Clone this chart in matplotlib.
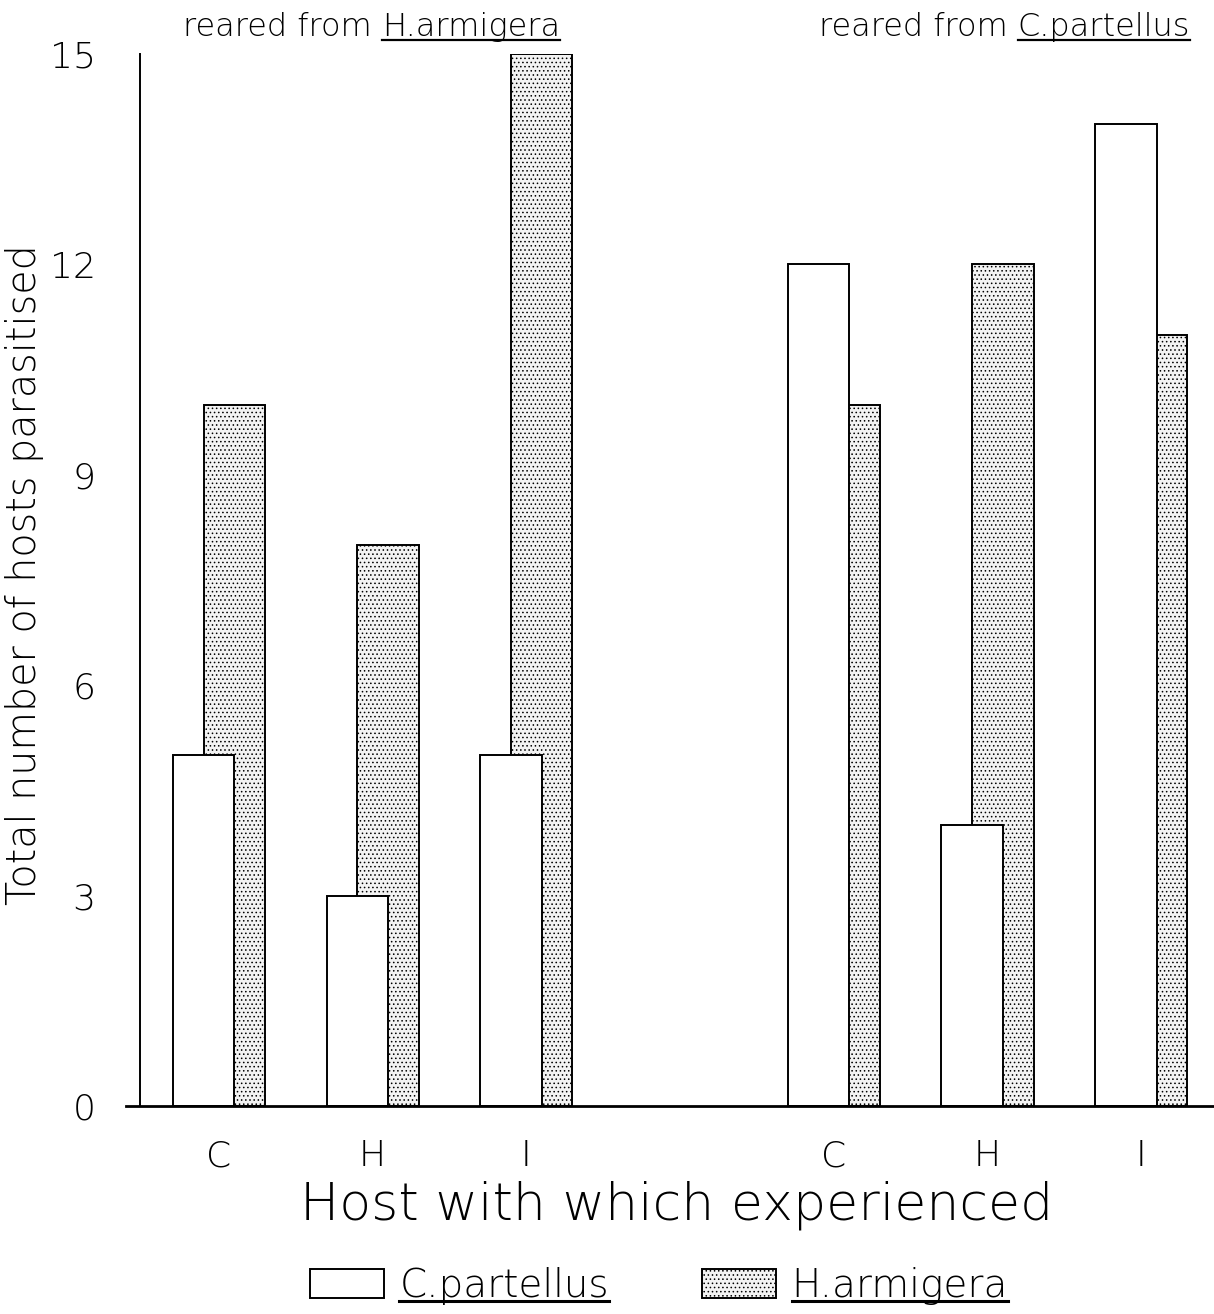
import matplotlib
matplotlib.use("Agg")
import matplotlib.pyplot as plt
import numpy as np
from matplotlib.lines import Line2D

plt.rcParams["font.family"] = ["DejaVu Sans"]
plt.rcParams["font.weight"] = "light"
plt.rcParams["axes.labelweight"] = "light"
plt.rcParams["hatch.color"] = "#b4b4b4"
plt.rcParams["hatch.linewidth"] = 0.6

# host with which the wasps were experienced, two rearing-host groups
categories = ["C", "H", "I", "C", "H", "I"]
positions = [0, 1, 2, 4, 5, 6]
c_partellus = [5, 3, 5, 12, 4, 14]
h_armigera = [10, 8, 15, 10, 12, 11]
group_titles = [("reared from ", "H.armigera"), ("reared from ", "C.partellus")]
series_names = ["C.partellus", "H.armigera"]
yticks = [0, 3, 6, 9, 12, 15]

fig = plt.figure(figsize=(12.14, 13.14), dpi=100)
ax = fig.add_axes([0.1153, 0.1583, 0.8847, 0.8006])

x = np.array(positions, dtype=float)
width = 0.40
offset = 0.10

ax.bar(x + offset, h_armigera, width=width, color="#f3f3f3", hatch="....",
       edgecolor="black", linewidth=1.4, zorder=2, label=series_names[1])
ax.bar(x - offset, c_partellus, width=width, color="white",
       edgecolor="black", linewidth=1.4, zorder=3, label=series_names[0])

ax.set_xlim(-0.514, 6.474)
ax.set_ylim(0, 15)
ax.set_xticks(positions)
ax.set_xticklabels(categories)
ax.set_yticks(yticks)
ax.set_yticklabels([str(v) for v in yticks])
ax.set_yticks([15], minor=True)
ax.tick_params(axis="y", which="major", length=0, pad=32, labelsize=26)
ax.tick_params(axis="y", which="minor", length=11, width=1.4, direction="out")
ax.tick_params(axis="x", length=0, pad=24, labelsize=26)

for side in ["top", "right", "bottom"]:
    ax.spines[side].set_visible(False)
ax.spines["left"].set_linewidth(1.4)
ax.axhline(0, xmin=-0.013, xmax=1, color="black", lw=2.0, clip_on=False, zorder=4)

ax.set_xlabel("Host with which experienced", fontsize=37.5, labelpad=5,
              fontweight="light")
ax.set_ylabel("Total number of hosts parasitised", fontsize=28.5, fontweight="light")
ax.yaxis.set_label_coords(-0.089, 0.505)

# group headings with underlined species names
title_right = [560 / 1214, 1190 / 1214]
title_base = 1 - 36 / 1314
heading_texts = []
for (prefix, species), xr in zip(group_titles, title_right):
    t_sp = fig.text(xr, title_base, species, ha="right", va="baseline", fontsize=23)
    heading_texts.append((prefix, t_sp))

handles, labels = ax.get_legend_handles_labels()
order = [1, 0]
leg = fig.legend([handles[i] for i in order], [labels[i] for i in order],
                 loc="center", bbox_to_anchor=(659 / 1214, 1 - 1286 / 1314),
                 ncol=2, frameon=False, fontsize=28, handlelength=1.9,
                 handleheight=0.8, handletextpad=0.4, columnspacing=2.4)

fig.canvas.draw()
renderer = fig.canvas.get_renderer()
inv = fig.transFigure.inverted()

for prefix, t_sp in heading_texts:
    bb = t_sp.get_window_extent(renderer)
    x0 = inv.transform((bb.x0, bb.y0))[0]
    fig.text(x0, title_base, prefix, ha="right", va="baseline", fontsize=23)


def underline(t, gap=3, lw=2.0):
    bb = t.get_window_extent(renderer)
    _, _, d = renderer.get_text_width_height_descent(
        t.get_text(), t.get_fontproperties(), ismath=False)
    yb = bb.y0 + d - gap
    (fx0, fy), (fx1, _) = inv.transform([(bb.x0, yb), (bb.x1, yb)])
    fig.add_artist(Line2D([fx0, fx1], [fy, fy], color="black", lw=lw,
                          transform=fig.transFigure))


for _, t_sp in heading_texts:
    underline(t_sp, gap=4, lw=1.6)
for t in leg.get_texts():
    underline(t, gap=4, lw=2.2)

fig.savefig("out.png", dpi=100, facecolor="white")
